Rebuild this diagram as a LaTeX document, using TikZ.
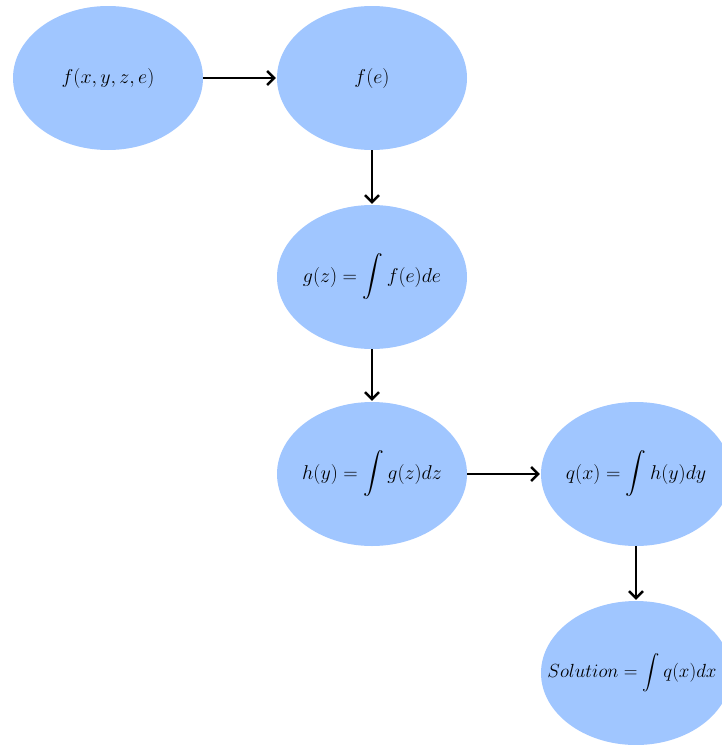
\documentclass[tikz,border=0pt]{standalone}
\usepackage{fix-cm}
\usepackage{amsmath}
\usetikzlibrary{shapes.geometric,arrows.meta}
\definecolor{blobblue}{RGB}{160,198,255}
\tikzset{
  blob/.style={ellipse, fill=blobblue, draw=none, minimum width=190pt, minimum height=144pt, inner sep=0pt,
    font=\fontsize{20}{23}\selectfont, text=black},
  link/.style={line width=2.8pt, -{Straight Barb[length=7pt,width=14pt,line width=2.4pt]}, shorten >=1pt}
}
\begin{document}
\begin{tikzpicture}[x=1pt,y=-1pt]
\useasboundingbox (0,0) rectangle (722,745);
\clip (0,0) rectangle (722,745);
\fill[white] (0,0) rectangle (722,745);
\node[blob] (a) at (108,78) {\makebox[0pt]{$f(x,y,z,e)$}};
\node[blob] (b) at (372,78) {\makebox[0pt]{$f(e)$}};
\node[blob] (c) at (372,277) {\makebox[0pt]{$\displaystyle g(z)=\int f(e)de$}};
\node[blob] (d) at (372,474) {\makebox[0pt]{$\displaystyle h(y)=\int g(z)dz$}};
\node[blob] (e) at (636,474) {\makebox[0pt]{$\displaystyle q(x)=\int h(y)dy$}};
\node[blob, font=\fontsize{19}{22}\selectfont] (f) at (636,673) {\makebox[0pt]{\hspace{-8pt}$\displaystyle Solution=\int q(x)dx$}};
\draw[link] (a) -- (b);
\draw[link] (b) -- (c);
\draw[link] (c) -- (d);
\draw[link] (d) -- (e);
\draw[link] (e) -- (f);
\end{tikzpicture}
\end{document}
